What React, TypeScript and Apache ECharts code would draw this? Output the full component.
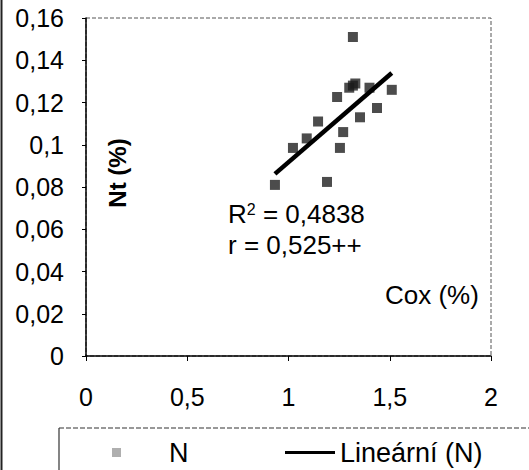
import React, { useEffect, useRef } from "react";
import * as echarts from "echarts";

const coxValues = [0.933, 1.022, 1.09, 1.146, 1.19, 1.24, 1.254, 1.27, 1.3, 1.318, 1.33, 1.318, 1.353, 1.4, 1.437, 1.51];
const ntValues = [0.081, 0.0985, 0.103, 0.111, 0.0824, 0.1226, 0.0985, 0.106, 0.127, 0.128, 0.129, 0.151, 0.113, 0.127, 0.1174, 0.126];
const trendCox = [0.933, 1.51];
const trendNt = [0.0862, 0.134];
const seriesNames = ["N", "Lineární (N)"];
const r2Text = "0,4838";
const rText = "0,525++";

const FONT = "'Liberation Sans', Arial, sans-serif";
const comma = (v: number) => String(+v.toFixed(4)).replace(".", ",");

export default function App() {
  const ref = useRef<HTMLDivElement>(null);
  useEffect(() => {
    if (!ref.current) return;
    const chart = echarts.init(ref.current, undefined, { renderer: "svg" });
    chart.setOption({
      animation: false,
      backgroundColor: "#fff",
      textStyle: { fontFamily: FONT, color: "#000" },
      grid: {
        left: 86, right: 38, top: 18, bottom: 114,
        show: true, borderColor: "#555", borderWidth: 1, borderType: "dashed",
      },
      xAxis: {
        type: "value", min: 0, max: 2, interval: 0.5,
        axisLine: { lineStyle: { color: "#000", width: 1.5 } },
        axisTick: { show: true, length: 5, lineStyle: { color: "#000" } },
        axisLabel: { formatter: comma, fontSize: 25, color: "#000", margin: 28, fontFamily: FONT },
        splitLine: { show: false },
      },
      yAxis: {
        type: "value", min: 0, max: 0.16, interval: 0.02,
        axisLine: { show: true, lineStyle: { color: "#000", width: 1.5 } },
        axisTick: { show: true, length: 4, lineStyle: { color: "#000" } },
        axisLabel: { formatter: comma, fontSize: 25, color: "#000", margin: 22, fontFamily: FONT },
        splitLine: { show: false },
      },
      legend: [
        {
          data: [seriesNames[0]], left: 112, top: 439, padding: 0,
          icon: "rect", itemWidth: 9, itemHeight: 9,
          itemStyle: { color: "#999" },
          formatter: (n: string) => "{g|}" + n,
          textStyle: { fontSize: 27, color: "#000", fontFamily: FONT, lineHeight: 27, rich: { g: { width: 43 } } },
        },
        {
          data: [seriesNames[1]], left: 285, top: 439, padding: 0,
          icon: "rect", itemWidth: 50, itemHeight: 3, itemGap: 0,
          textStyle: { fontSize: 27, color: "#000", fontFamily: FONT, lineHeight: 27 },
        },
      ],
      series: [
        {
          name: seriesNames[0], type: "scatter", symbol: "rect", symbolSize: 10,
          itemStyle: { color: "#1a1a1a", opacity: 0.78 },
          data: coxValues.map((x, i) => [x, ntValues[i]]),
          z: 3,
        },
        {
          name: seriesNames[1], type: "line", symbol: "none",
          lineStyle: { color: "#000", width: 4.5 },
          itemStyle: { color: "#000" },
          data: trendCox.map((x, i) => [x, trendNt[i]]),
          z: 4,
        },
      ],
      graphic: [
        { type: "line", shape: { x1: 1.5, y1: 0, x2: 1.5, y2: 470 }, style: { stroke: "#222", lineWidth: 2 } },
        { type: "line", shape: { x1: 59, y1: 428, x2: 529, y2: 428 }, style: { stroke: "#333", lineWidth: 1.2, lineDash: [5, 2] } },
        { type: "line", shape: { x1: 59, y1: 428, x2: 59, y2: 470 }, style: { stroke: "#333", lineWidth: 1.2 } },
        {
          type: "text", x: 117, y: 173, rotation: Math.PI / 2,
          style: { text: "Nt (%)", font: `bold 24px ${FONT}`, fill: "#000", align: "center", verticalAlign: "middle" },
        },
        {
          type: "text", x: 228, y: 214,
          style: {
            text: "R{sup|2} = " + r2Text, font: `26px ${FONT}`, fill: "#000", verticalAlign: "middle", lineHeight: 26,
            rich: { sup: { fontSize: 16, lineHeight: 26, verticalAlign: "top", padding: [0, 0, 8, 0], fontFamily: FONT } },
          },
        },
        {
          type: "text", x: 228, y: 245,
          style: { text: "r = " + rText, font: `26px ${FONT}`, fill: "#000", verticalAlign: "middle", lineHeight: 26 },
        },
        {
          type: "text", x: 385, y: 295,
          style: { text: "Cox (%)", font: `26px ${FONT}`, fill: "#000", verticalAlign: "middle" },
        },
      ],
    });
    return () => chart.dispose();
  }, []);
  return <div ref={ref} style={{ width: 529, height: 470, position: "absolute", left: 0, top: 0 }} />;
}
